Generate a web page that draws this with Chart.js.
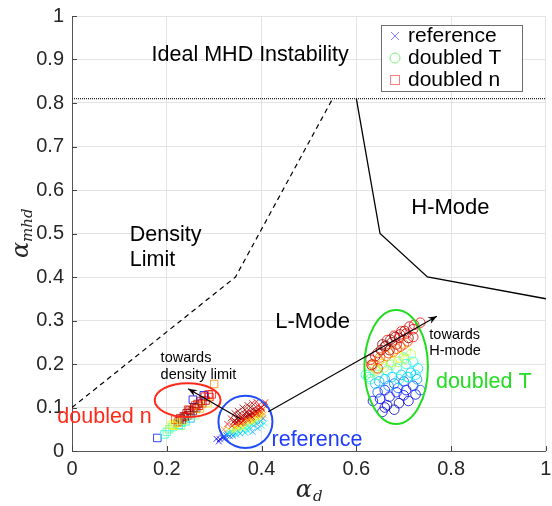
<!DOCTYPE html>
<html>
<head>
<meta charset="utf-8">
<script src="https://cdn.jsdelivr.net/npm/chart.js@4.4.0/dist/chart.umd.min.js"></script>
<style>
html, body { margin: 0; padding: 0; background: #fff; }
</style>
</head>
<body>
<canvas id="regimes" width="552" height="506"></canvas>
<script>
// axis ticks
const xTicks = [0, 0.2, 0.4, 0.6, 0.8, 1];
const xTickLabels = ['0', '0.2', '0.4', '0.6', '0.8', '1'];
const yTicks = [0, 0.1, 0.2, 0.3, 0.4, 0.5, 0.6, 0.7, 0.8, 0.9, 1];
const yTickLabels = ['0', '0.1', '0.2', '0.3', '0.4', '0.5', '0.6', '0.7', '0.8', '0.9', '1'];

// regime boundaries
const mhdX = [0, 1];
const mhdY = [0.81, 0.81];
const densX = [0, 0.345, 0.55];
const densY = [0.1, 0.4, 0.81];
const hmodeX = [0.6, 0.65, 0.75, 1];
const hmodeY = [0.81, 0.5, 0.4, 0.35];

// reference case (x markers), c = colour parameter 0..1
const refX = [0.312, 0.317, 0.320, 0.324, 0.326, 0.329, 0.333, 0.338, 0.345, 0.352, 0.360, 0.368, 0.375, 0.383,
  0.390, 0.398, 0.403, 0.395, 0.385, 0.335, 0.342, 0.350, 0.358, 0.366, 0.374, 0.382, 0.390, 0.398, 0.330,
  0.336, 0.344, 0.356, 0.364, 0.371, 0.379, 0.387, 0.395, 0.338, 0.345, 0.352, 0.358, 0.365, 0.370, 0.376,
  0.382, 0.388, 0.394, 0.400, 0.405, 0.360, 0.368, 0.375, 0.384, 0.392, 0.355, 0.362, 0.372, 0.380, 0.348,
  0.340, 0.401, 0.408, 0.386, 0.378, 0.343, 0.351, 0.364,
  0.347, 0.353, 0.359, 0.366, 0.373, 0.380, 0.387, 0.393, 0.399, 0.357, 0.363, 0.369, 0.377, 0.383, 0.390,
  0.396, 0.350, 0.372, 0.389, 0.402, 0.332, 0.327, 0.341, 0.349, 0.361, 0.370, 0.381, 0.392, 0.398, 0.404,
  0.343, 0.350, 0.360, 0.370, 0.380, 0.389, 0.352, 0.365, 0.377, 0.335, 0.328, 0.320,
  0.347, 0.355, 0.365, 0.381, 0.392, 0.400, 0.406, 0.372, 0.340, 0.310, 0.305,
  0.360, 0.370, 0.380, 0.390, 0.345];
const refY = [0.027, 0.031, 0.032, 0.030, 0.036, 0.038, 0.034, 0.040, 0.042, 0.045, 0.048, 0.050, 0.055, 0.058,
  0.063, 0.068, 0.075, 0.072, 0.066, 0.047, 0.052, 0.055, 0.058, 0.062, 0.066, 0.072, 0.078, 0.084, 0.050,
  0.044, 0.048, 0.052, 0.056, 0.060, 0.062, 0.070, 0.078, 0.058, 0.063, 0.068, 0.072, 0.075, 0.080, 0.084,
  0.088, 0.092, 0.096, 0.100, 0.106, 0.082, 0.088, 0.092, 0.098, 0.104, 0.064, 0.068, 0.073, 0.078, 0.074,
  0.066, 0.090, 0.112, 0.082, 0.075, 0.070, 0.078, 0.086,
  0.067, 0.071, 0.076, 0.079, 0.083, 0.087, 0.090, 0.094, 0.099, 0.065, 0.071, 0.077, 0.081, 0.085, 0.087,
  0.091, 0.060, 0.070, 0.084, 0.095, 0.042, 0.040, 0.046, 0.050, 0.053, 0.057, 0.066, 0.074, 0.080, 0.083,
  0.087, 0.092, 0.100, 0.106, 0.110, 0.113, 0.084, 0.095, 0.100, 0.075, 0.062, 0.050,
  0.037, 0.040, 0.042, 0.044, 0.052, 0.058, 0.064, 0.046, 0.035, 0.022, 0.028,
  0.065, 0.070, 0.070, 0.085, 0.055];
const refC = [0.08, 0.10, 0.12, 0.15, 0.18, 0.25, 0.22, 0.28, 0.35, 0.38, 0.40, 0.36, 0.33, 0.30,
  0.28, 0.25, 0.22, 0.35, 0.42, 0.55, 0.62, 0.65, 0.60, 0.68, 0.62, 0.70, 0.66, 0.72, 0.70,
  0.45, 0.50, 0.45, 0.50, 0.55, 0.40, 0.50, 0.55, 0.85, 0.90, 0.92, 0.95, 0.97, 1.00, 0.95,
  0.98, 1.00, 0.95, 0.92, 0.90, 0.88, 0.93, 0.90, 0.95, 0.88, 0.80, 0.85, 0.82, 0.86, 0.90,
  0.95, 0.75, 0.85, 0.78, 0.80, 0.98, 0.95, 0.97,
  0.97, 1.00, 0.95, 0.98, 1.00, 0.96, 0.98, 0.93, 0.90, 0.88, 0.90, 0.92, 0.95, 0.90, 0.93,
  0.85, 0.80, 0.75, 0.80, 0.82, 0.40, 0.30, 0.60, 0.58, 0.62, 0.45, 0.60, 0.62, 0.68, 0.70,
  0.95, 0.97, 0.98, 0.95, 0.92, 0.90, 1.00, 0.98, 1.00, 0.93, 0.90, 0.75,
  0.35, 0.30, 0.32, 0.28, 0.30, 0.35, 0.40, 0.38, 0.25, 0.10, 0.12,
  0.75, 0.72, 0.68, 0.80, 0.70];

// doubled n case (squares)
const dnX = [0.180, 0.200, 0.205, 0.212, 0.218, 0.225, 0.232, 0.225, 0.232, 0.238, 0.245, 0.250, 0.255, 0.262,
  0.268, 0.275, 0.282, 0.290, 0.295, 0.300, 0.255, 0.278, 0.210, 0.230, 0.240, 0.250, 0.260, 0.245, 0.260,
  0.270, 0.280, 0.218, 0.286, 0.228, 0.236, 0.242, 0.248, 0.258, 0.265, 0.272, 0.288, 0.215, 0.222, 0.235, 0.195];
const dnY = [0.030, 0.044, 0.050, 0.055, 0.062, 0.060, 0.065, 0.068, 0.072, 0.078, 0.082, 0.088, 0.092, 0.098,
  0.104, 0.110, 0.116, 0.124, 0.130, 0.154, 0.118, 0.128, 0.060, 0.058, 0.068, 0.075, 0.082, 0.095, 0.105,
  0.098, 0.125, 0.072, 0.110, 0.075, 0.080, 0.087, 0.093, 0.100, 0.108, 0.115, 0.130, 0.058, 0.065, 0.070, 0.038];
const dnC = [0.15, 0.45, 0.50, 0.40, 0.55, 0.35, 0.45, 0.90, 0.95, 0.98, 1.00, 0.92, 0.95, 0.97,
  0.90, 0.95, 0.92, 0.88, 0.85, 0.75, 0.12, 0.10, 0.60, 0.50, 0.40, 0.30, 0.50, 0.85, 0.80,
  0.70, 0.90, 0.80, 0.65, 0.97, 0.92, 0.98, 0.95, 0.99, 0.93, 0.96, 0.90, 0.62, 0.70, 0.55, 0.42];

// doubled T case (circles)
const dtX = [0.655, 0.665, 0.635, 0.650, 0.670, 0.690, 0.710, 0.725, 0.720, 0.705, 0.685, 0.660, 0.645, 0.700,
  0.680, 0.640, 0.660, 0.675, 0.695, 0.715, 0.730, 0.720, 0.625, 0.645, 0.665, 0.685, 0.705, 0.700, 0.640,
  0.655, 0.675, 0.690, 0.705, 0.635, 0.650, 0.668, 0.685, 0.700, 0.630, 0.645, 0.660, 0.675, 0.690, 0.705,
  0.720, 0.735, 0.665, 0.680, 0.695, 0.655, 0.685, 0.710, 0.670,
  0.640, 0.652, 0.662, 0.672, 0.682, 0.692, 0.702, 0.712, 0.722, 0.633, 0.648, 0.663, 0.678, 0.693, 0.708,
  0.720, 0.628, 0.642, 0.658, 0.673, 0.688, 0.703, 0.715, 0.648, 0.668, 0.688, 0.708, 0.728, 0.660, 0.680,
  0.700, 0.620, 0.735, 0.632, 0.645, 0.630, 0.690, 0.710, 0.725];
const dtY = [0.090, 0.105, 0.115, 0.120, 0.125, 0.110, 0.115, 0.130, 0.150, 0.140, 0.135, 0.140, 0.135, 0.160,
  0.155, 0.155, 0.165, 0.170, 0.175, 0.180, 0.190, 0.205, 0.170, 0.175, 0.185, 0.190, 0.200, 0.215, 0.190,
  0.200, 0.205, 0.215, 0.230, 0.200, 0.215, 0.225, 0.235, 0.245, 0.210, 0.225, 0.240, 0.250, 0.260, 0.270,
  0.280, 0.295, 0.255, 0.265, 0.275, 0.245, 0.245, 0.260, 0.232,
  0.218, 0.232, 0.242, 0.256, 0.262, 0.268, 0.276, 0.286, 0.290, 0.195, 0.208, 0.218, 0.228, 0.240, 0.252,
  0.262, 0.180, 0.185, 0.192, 0.198, 0.205, 0.212, 0.222, 0.160, 0.150, 0.145, 0.170, 0.165, 0.100, 0.095,
  0.128, 0.175, 0.140, 0.198, 0.190, 0.165, 0.165, 0.170, 0.175];
const dtC = [0.10, 0.08, 0.10, 0.12, 0.10, 0.05, 0.10, 0.08, 0.15, 0.12, 0.14, 0.15, 0.20, 0.20,
  0.22, 0.30, 0.28, 0.32, 0.30, 0.30, 0.35, 0.38, 0.42, 0.45, 0.40, 0.42, 0.40, 0.45, 0.60,
  0.65, 0.58, 0.62, 0.60, 0.80, 0.78, 0.82, 0.80, 0.78, 0.90, 0.92, 0.95, 1.00, 0.95, 0.92,
  0.90, 0.88, 0.85, 0.90, 0.88, 1.00, 0.97, 1.00, 0.98,
  0.95, 0.97, 1.00, 0.98, 1.00, 0.93, 0.97, 0.92, 0.88, 0.75, 0.72, 0.78, 0.75, 0.85, 0.82,
  0.88, 0.50, 0.52, 0.55, 0.50, 0.55, 0.52, 0.55, 0.30, 0.25, 0.22, 0.33, 0.28, 0.06, 0.05,
  0.10, 0.42, 0.20, 0.92, 0.85, 0.45, 0.40, 0.42, 0.35];

// jet colour map
function jet(c) {
  const f = v => Math.round(255 * Math.max(0, Math.min(1, v)));
  return 'rgb(' + f(1.5 - Math.abs(4 * c - 3)) + ',' + f(1.5 - Math.abs(4 * c - 2)) + ',' + f(1.5 - Math.abs(4 * c - 1)) + ')';
}
const pts = (xs, ys) => xs.map((v, i) => ({ x: v, y: ys[i] }));

// annotations in data coordinates
const ellipses = [
  { x: 0.244, y: 0.117, rx: 0.0695, ry: 0.039, color: '#ff2a1a' },
  { x: 0.366, y: 0.067, rx: 0.057, ry: 0.060, color: '#1f4cf5' },
  { x: 0.684, y: 0.193, rx: 0.067, ry: 0.131, color: '#22dd22' }
];
const arrows = [
  [0.355, 0.074, 0.245, 0.143],
  [0.414, 0.090, 0.770, 0.310]
];
const notes = [
  { t: 'Ideal MHD Instability', x: 0.168, y: 0.910, size: 21.5, color: '#000' },
  { t: 'Density', x: 0.122, y: 0.497, size: 21.5, color: '#000' },
  { t: 'Limit', x: 0.122, y: 0.439, size: 21.5, color: '#000' },
  { t: 'H-Mode', x: 0.716, y: 0.559, size: 22, color: '#000' },
  { t: 'L-Mode', x: 0.429, y: 0.297, size: 22, color: '#000' },
  { t: 'towards', x: 0.187, y: 0.214, size: 14.5, color: '#000' },
  { t: 'density limit', x: 0.187, y: 0.175, size: 14.5, color: '#000' },
  { t: 'towards', x: 0.754, y: 0.267, size: 14.5, color: '#000' },
  { t: 'H-mode', x: 0.754, y: 0.230, size: 14.5, color: '#000' },
  { t: 'doubled n', x: -0.031, y: 0.078, size: 21.5, color: '#ff2a1a' },
  { t: 'reference', x: 0.421, y: 0.025, size: 21.5, color: '#1f3cff' },
  { t: 'doubled T', x: 0.768, y: 0.159, size: 21.5, color: '#22dd22' }
];
const FONT = '"Liberation Sans", Arial, Helvetica, sans-serif';

const overlay = {
  id: 'overlay',
  afterDatasetsDraw(chart) {
    const { ctx, chartArea: a, scales: { x, y } } = chart;
    const px = v => x.getPixelForValue(v);
    const py = v => y.getPixelForValue(v);
    ctx.save();

    // inward tick marks
    ctx.strokeStyle = '#444';
    ctx.lineWidth = 1;
    ctx.beginPath();
    xTicks.forEach(v => { ctx.moveTo(Math.round(px(v)) + 0.5, a.bottom); ctx.lineTo(Math.round(px(v)) + 0.5, a.bottom - 5); });
    yTicks.forEach(v => { ctx.moveTo(a.left, Math.round(py(v)) + 0.5); ctx.lineTo(a.left + 5, Math.round(py(v)) + 0.5); });
    ctx.stroke();

    // ellipses
    ctx.lineWidth = 2;
    ellipses.forEach(e => {
      ctx.strokeStyle = e.color;
      ctx.beginPath();
      ctx.ellipse(px(e.x), py(e.y), px(e.x + e.rx) - px(e.x), py(e.y) - py(e.y + e.ry), 0, 0, 2 * Math.PI);
      ctx.stroke();
    });

    // arrows
    ctx.strokeStyle = '#000';
    ctx.fillStyle = '#000';
    ctx.lineWidth = 1.1;
    arrows.forEach(([x0, y0, x1, y1]) => {
      const ax = px(x0), ay = py(y0), bx = px(x1), by = py(y1);
      const ang = Math.atan2(by - ay, bx - ax);
      ctx.beginPath();
      ctx.moveTo(ax, ay);
      ctx.lineTo(bx, by);
      ctx.stroke();
      ctx.beginPath();
      ctx.moveTo(bx, by);
      ctx.lineTo(bx - 9 * Math.cos(ang) + 3.5 * Math.sin(ang), by - 9 * Math.sin(ang) - 3.5 * Math.cos(ang));
      ctx.lineTo(bx - 6 * Math.cos(ang), by - 6 * Math.sin(ang));
      ctx.lineTo(bx - 9 * Math.cos(ang) - 3.5 * Math.sin(ang), by - 9 * Math.sin(ang) + 3.5 * Math.cos(ang));
      ctx.closePath();
      ctx.fill();
    });

    // text notes
    ctx.textAlign = 'left';
    ctx.textBaseline = 'middle';
    notes.forEach(n => {
      ctx.font = n.size + 'px ' + FONT;
      ctx.fillStyle = n.color;
      ctx.fillText(n.t, px(n.x), py(n.y));
    });

    // legend box
    const lx = 381, ly = 25, lw = 141, lh = 66;
    ctx.fillStyle = '#fff';
    ctx.fillRect(lx, ly, lw, lh);
    ctx.strokeStyle = '#6e6e6e';
    ctx.lineWidth = 1;
    ctx.strokeRect(lx + 0.5, ly + 0.5, lw, lh);
    const rows = [['reference', 36], ['doubled T', 58], ['doubled n', 80]];
    // cross
    ctx.strokeStyle = '#7f7fff';
    ctx.beginPath();
    ctx.moveTo(391, 32); ctx.lineTo(399, 40); ctx.moveTo(399, 32); ctx.lineTo(391, 40);
    ctx.stroke();
    // circle
    ctx.strokeStyle = '#7fef7f';
    ctx.beginPath();
    ctx.arc(395, 58, 5, 0, 2 * Math.PI);
    ctx.stroke();
    // square
    ctx.strokeStyle = '#ff7f7f';
    ctx.strokeRect(390.5, 75.5, 9, 9);
    ctx.fillStyle = '#000';
    ctx.font = '21px ' + FONT;
    rows.forEach(([t, yy]) => ctx.fillText(t, 408, yy));

    ctx.restore();
  },
  afterDraw(chart) {
    const { ctx, chartArea: a } = chart;
    ctx.save();
    ctx.fillStyle = '#262626';
    ctx.textBaseline = 'alphabetic';
    // x axis title: alpha_d
    const cx = (a.left + a.right) / 2;
    ctx.font = 'italic 24px "DejaVu Serif", "Liberation Serif", serif';
    ctx.textAlign = 'right';
    ctx.fillText('\u03B1', cx + 3, 497);
    ctx.font = 'italic 15px "DejaVu Serif", "Liberation Serif", serif';
    ctx.textAlign = 'left';
    ctx.fillText('d', cx + 4, 501);
    // y axis title: alpha_mhd
    ctx.translate(28, 236);
    ctx.rotate(-Math.PI / 2);
    ctx.font = 'italic 24px "DejaVu Serif", "Liberation Serif", serif';
    ctx.textAlign = 'left';
    ctx.fillText('\u03B1', -22, 0);
    ctx.font = 'italic 15px "DejaVu Serif", "Liberation Serif", serif';
    ctx.fillText('mhd', -6, 4);
    ctx.restore();
  }
};

Chart.defaults.font.family = FONT;
Chart.defaults.font.size = 20;
Chart.defaults.color = '#262626';

new Chart(document.getElementById('regimes'), {
  type: 'scatter',
  data: {
    datasets: [
      { type: 'line', data: pts(mhdX, mhdY), borderColor: '#222', borderWidth: 1.2, borderDash: [1, 1], pointRadius: 0, fill: false },
      { type: 'line', data: pts(densX, densY), borderColor: '#000', borderWidth: 1.2, borderDash: [5, 4], pointRadius: 0, fill: false },
      { type: 'line', data: pts(hmodeX, hmodeY), borderColor: '#000', borderWidth: 1.3, pointRadius: 0, fill: false },
      { label: 'doubled n', data: pts(dnX, dnY), pointStyle: 'rect', pointRadius: 5.3, pointBorderWidth: 0.8,
        pointBackgroundColor: 'rgba(0,0,0,0)', pointBorderColor: dnC.map(jet) },
      { label: 'doubled T', data: pts(dtX, dtY), pointStyle: 'circle', pointRadius: 4.8, pointBorderWidth: 0.8,
        pointBackgroundColor: 'rgba(0,0,0,0)', pointBorderColor: dtC.map(jet) },
      { label: 'reference', data: pts(refX, refY), pointStyle: 'crossRot', pointRadius: 4.2, pointBorderWidth: 0.8,
        pointBorderColor: refC.map(jet) }
    ]
  },
  options: {
    responsive: false,
    animation: false,
    events: [],
    layout: { padding: { left: 0, top: 16, right: 5, bottom: 0 } },
    plugins: { legend: { display: false }, tooltip: { enabled: false } },
    scales: {
      x: {
        type: 'linear', min: 0, max: 1,
        afterBuildTicks: s => { s.ticks = xTicks.map(v => ({ value: v })); },
        afterFit: s => { s.height = 55; s.paddingLeft = 0; s.paddingRight = 0; },
        ticks: { padding: 6, callback: v => xTickLabels[xTicks.indexOf(v)] },
        grid: { color: '#e3e3e3', drawTicks: false },
        border: { display: true, color: '#555' }
      },
      y: {
        type: 'linear', min: 0, max: 1,
        afterBuildTicks: s => { s.ticks = yTicks.map(v => ({ value: v })); },
        afterFit: s => { s.width = 72; s.paddingTop = 0; s.paddingBottom = 0; },
        ticks: { padding: 8, callback: v => yTickLabels[yTicks.indexOf(v)] },
        grid: { color: '#e3e3e3', drawTicks: false },
        border: { display: true, color: '#555' }
      }
    }
  },
  plugins: [overlay]
});
</script>
</body>
</html>
